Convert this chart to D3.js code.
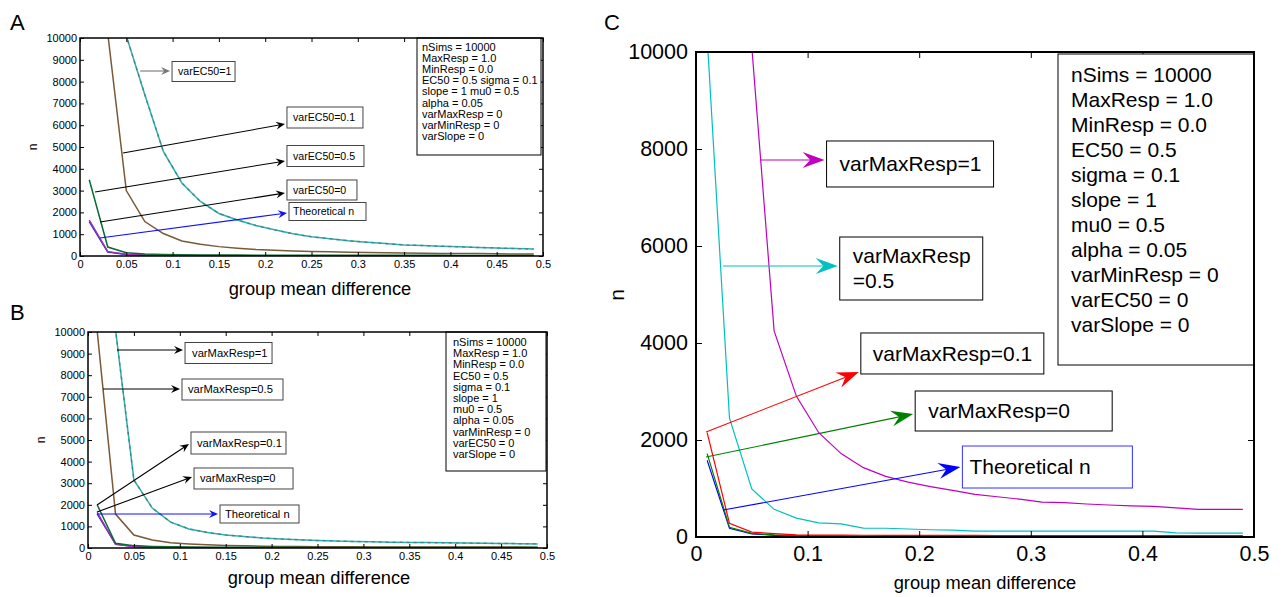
<!DOCTYPE html>
<html>
<head>
<meta charset="utf-8">
<title>Sample size vs group mean difference</title>
<script src="https://cdnjs.cloudflare.com/ajax/libs/d3/7.8.5/d3.min.js"></script>
<style>
  body { margin: 0; background: #fff; }
  text { font-family: "Liberation Sans", Arial, Helvetica, sans-serif; }
</style>
</head>
<body>
<script>
    // group mean difference (x) for every series
    var diffs = [0.01, 0.03, 0.05, 0.07, 0.09, 0.11, 0.13, 0.15, 0.17, 0.19, 0.21, 0.23, 0.25,
                 0.27, 0.29, 0.31, 0.33, 0.35, 0.37, 0.39, 0.41, 0.43, 0.45, 0.47, 0.49];

    var theoreticalN = [1580, 180, 65, 35, 22, 16, 12, 10, 8, 7, 6, 5, 5, 4, 4, 4, 3, 3, 3, 3, 3, 2, 2, 2, 2];

    // panel A: varEC50
    var aVarEC50_1   = [40000, 20000, 10100, 7400, 4800, 3350, 2500, 1950, 1650, 1400, 1200, 1020, 880,
                        790, 700, 630, 570, 510, 480, 450, 420, 390, 370, 340, 320];
    var aVarEC50_01  = [90000, 10200, 3000, 1580, 1030, 690, 540, 430, 360, 300, 260, 230, 210,
                        190, 175, 160, 150, 140, 130, 120, 115, 110, 100, 95, 90];
    var aVarEC50_05  = [3500, 410, 150, 90, 65, 55, 50, 45, 42, 40, 38, 36, 35, 34, 33, 32, 31, 30, 30, 29, 28, 28, 27, 27, 26];
    var aVarEC50_0   = [1650, 200, 80, 45, 30, 25, 20, 18, 16, 15, 14, 13, 12, 12, 11, 11, 10, 10, 10, 10, 9, 9, 9, 9, 9];

    // panel B: varMaxResp
    var bVarMax_1    = [40000, 10100, 3150, 1850, 1200, 880, 720, 600, 530, 460, 420, 380, 350,
                        320, 300, 285, 270, 260, 250, 240, 230, 220, 210, 200, 190];
    var bVarMax_05   = [10050, 1570, 600, 370, 240, 190, 150, 120, 100, 85, 75, 68, 62, 58, 55, 52, 50, 48, 46, 45, 44, 43, 42, 41, 40];
    var bVarMax_01   = [2000, 220, 110, 75, 55, 45, 40, 36, 33, 31, 30, 29, 28, 27, 26, 26, 25, 25, 24, 24, 24, 23, 23, 23, 23];
    var bVarMax_0    = [1650, 170, 70, 40, 28, 22, 18, 16, 14, 13, 12, 11, 11, 10, 10, 10, 9, 9, 9, 9, 9, 8, 8, 8, 8];

    // panel C: varMaxResp, enlarged
    var cVarMax_1    = [60000, 25000, 10100, 4250, 2900, 2150, 1720, 1430, 1250, 1130, 1040, 960, 880,
                        830, 780, 720, 710, 680, 660, 640, 630, 600, 570, 570, 570];
    var cVarMax_05   = [10300, 2450, 990, 570, 390, 290, 270, 185, 180, 165, 150, 140, 120,
                        120, 120, 120, 120, 120, 120, 120, 120, 85, 80, 80, 80];
    var cVarMax_01   = [2150, 280, 100, 70, 45, 40, 38, 36, 35, 34, 33, 32, 32, 31, 31, 30, 30, 30, 30, 30, 30, 30, 30, 30, 30];
    var cVarMax_0    = [1720, 200, 75, 42, 30, 25, 22, 20, 19, 18, 17, 16, 16, 15, 15, 15, 14, 14, 14, 14, 14, 14, 14, 14, 14];

    var xTicksAB = [0, 0.05, 0.1, 0.15, 0.2, 0.25, 0.3, 0.35, 0.4, 0.45, 0.5];
    var yTicksAB = [0, 1000, 2000, 3000, 4000, 5000, 6000, 7000, 8000, 9000, 10000];
    var xTicksC = [0, 0.1, 0.2, 0.3, 0.4, 0.5];
    var yTicksC = [0, 2000, 4000, 6000, 8000, 10000];

    var paramsA = ["nSims = 10000", "MaxResp = 1.0", "MinResp = 0.0", "EC50 = 0.5 sigma = 0.1",
                   "slope = 1 mu0 = 0.5", "alpha = 0.05", "varMaxResp = 0", "varMinResp = 0", "varSlope = 0"];
    var paramsBC = ["nSims = 10000", "MaxResp = 1.0", "MinResp = 0.0", "EC50 = 0.5", "sigma = 0.1",
                    "slope = 1", "mu0 = 0.5", "alpha = 0.05", "varMinResp = 0", "varEC50 = 0", "varSlope = 0"];

    var svg = d3.select("body").append("svg")
        .attr("width", 1288)
        .attr("height", 597);
    var defs = svg.append("defs");

    var tealAB = "#22b4b4", brownAB = "#7a5838", greenAB = "#0b6b35", magAB = "#a030b0", blueAB = "#2222e6";

    var panels = [
        {
            id: "A", left: 80, right: 543, top: 38, bottom: 256,
            xTicks: xTicksAB, yTicks: yTicksAB, fs: 11, tick: 4, pad: 4, lw: 1.5, frameW: 1.5,
            letter: [10, 30], nLabel: [37, 147, 12], title: [320, 295, 18.3],
            series: [
                { values: aVarEC50_1, color: tealAB, overlay: "#5d6b6b" },
                { values: aVarEC50_01, color: brownAB },
                { values: theoreticalN, color: blueAB },
                { values: aVarEC50_0, color: magAB },
                { values: aVarEC50_05, color: greenAB }
            ],
            notes: [
                { lines: ["varEC50=1"], color: "#777", box: "#444", tx: 0.065, ty: 8486, bx: 0.0994, by: 8463, hy: 8486, w: 63, h: 20, tp: 6 },
                { lines: ["varEC50=0.1"], color: "#000", box: "#444", tx: 0.0464, ty: 4725, bx: 0.2235, by: 6353, hy: 6055, w: 76, h: 21, tp: 6 },
                { lines: ["varEC50=0.5"], color: "#000", box: "#444", tx: 0.0162, ty: 2936, bx: 0.2235, by: 4587, hy: 4358, w: 77, h: 21, tp: 6 },
                { lines: ["varEC50=0"], color: "#000", box: "#444", tx: 0.0216, ty: 1560, bx: 0.2235, by: 3028, hy: 2890, w: 70, h: 20, tp: 6 },
                { lines: ["Theoretical n"], color: "#1010ff", box: "#444", tx: 0.0216, ty: 826, bx: 0.2257, by: 2041, hy: 1972, w: 77, h: 18, tp: 4 }
            ],
            arrow: [9, 4], noteFs: 10.6, lineGap: 0,
            params: { lines: paramsA, x0: 417, y0: 38, x1: 541, y1: 155, fs: 11, gap: 11.1, base: 51, tx: 422 }
        },
        {
            id: "B", left: 88, right: 547, top: 332, bottom: 548,
            xTicks: xTicksAB, yTicks: yTicksAB, fs: 11, tick: 4, pad: 4, lw: 1.5, frameW: 1.5,
            letter: [10, 320], nLabel: [45, 440, 12], title: [319, 584, 18.3],
            series: [
                { values: bVarMax_1, color: tealAB, overlay: "#5d6b6b" },
                { values: bVarMax_05, color: brownAB },
                { values: theoreticalN, color: blueAB },
                { values: bVarMax_0, color: magAB },
                { values: bVarMax_01, color: greenAB }
            ],
            notes: [
                { lines: ["varMaxResp=1"], color: "#000", box: "#444", tx: 0.0316, ty: 9167, bx: 0.1057, by: 9028, hy: 9167, w: 87, h: 21, tp: 7 },
                { lines: ["varMaxResp=0.5"], color: "#000", box: "#444", tx: 0.0163, ty: 7361, bx: 0.1024, by: 7338, hy: 7361, w: 101, h: 21, tp: 6 },
                { lines: ["varMaxResp=0.1"], color: "#000", box: "#444", tx: 0.0098, ty: 1991, bx: 0.1122, by: 4861, hy: 4815, w: 95, h: 22, tp: 6 },
                { lines: ["varMaxResp=0"], color: "#000", box: "#444", tx: 0.0098, ty: 1667, bx: 0.1155, by: 3218, hy: 3287, w: 99, h: 21, tp: 6 },
                { lines: ["Theoretical n"], color: "#1010ff", box: "#444", tx: 0.0098, ty: 1574, bx: 0.1438, by: 1574, hy: 1574, w: 79, h: 18, tp: 5 }
            ],
            arrow: [9, 4], noteFs: 11.2, lineGap: 0,
            params: { lines: paramsBC, x0: 446, y0: 332, x1: 546, y1: 471, fs: 11, gap: 11.2, base: 346, tx: 453 }
        },
        {
            id: "C", left: 696, right: 1254, top: 52, bottom: 537,
            xTicks: xTicksC, yTicks: yTicksC, fs: 21.5, tick: 6, pad: 9, lw: 1.2, frameW: 2,
            letter: [604, 30], nLabel: [624, 295, 21], title: [985, 589, 18.3],
            series: [
                { values: cVarMax_1, color: "#c000c0" },
                { values: cVarMax_05, color: "#00c0c0" },
                { values: theoreticalN, color: "#0000ff" },
                { values: cVarMax_0, color: "#008000" },
                { values: cVarMax_01, color: "#ff0000" }
            ],
            notes: [
                { lines: ["varMaxResp=1"], color: "#c000c0", box: "#000", tx: 0.0577, ty: 7773, bx: 0.117, by: 7691, hy: 7773, w: 167, h: 46, tp: 13 },
                { lines: ["varMaxResp", "=0.5"], color: "#00c0c0", box: "#000", tx: 0.0243, ty: 5588, bx: 0.1288, by: 5536, hy: 5588, w: 143, h: 63, tp: 13 },
                { lines: ["varMaxResp=0.1"], color: "#ff0000", box: "#000", tx: 0.009, ty: 2165, bx: 0.1477, by: 3784, hy: 3402, w: 183, h: 41, tp: 12 },
                { lines: ["varMaxResp=0"], color: "#008000", box: "#000", tx: 0.009, ty: 1649, bx: 0.1964, by: 2598, hy: 2536, w: 197, h: 40, tp: 13 },
                { lines: ["Theoretical n"], color: "#0000ff", box: "#3333ff", tx: 0.0243, ty: 557, bx: 0.2387, by: 1443, hy: 1443, w: 170, h: 42, tp: 7 }
            ],
            arrow: [22, 8], noteFs: 21, lineGap: 25,
            params: { lines: paramsBC, x0: 1058, y0: 54, x1: 1254, y1: 365, fs: 21, gap: 25, base: 82, tx: 1071 }
        }
    ];

    function arrow(g, x1, y1, x2, y2, len, half, color) {
        var a = Math.atan2(y2 - y1, x2 - x1), c = Math.cos(a), s = Math.sin(a);
        var bx = x2 - len * c, by = y2 - len * s;
        var nx = x2 - len * 0.65 * c, ny = y2 - len * 0.65 * s;
        g.append("line").attr("x1", x1).attr("y1", y1).attr("x2", nx).attr("y2", ny)
            .attr("stroke", color).attr("stroke-width", 1.1);
        g.append("path")
            .attr("d", "M" + x2 + "," + y2 +
                " L" + (bx - half * s) + "," + (by + half * c) +
                " L" + nx + "," + ny +
                " L" + (bx + half * s) + "," + (by - half * c) + " Z")
            .attr("fill", color);
    }

    function drawPanel(p) {
        var x = d3.scaleLinear().domain([0, 0.5]).range([p.left, p.right]);
        var y = d3.scaleLinear().domain([0, 10000]).range([p.bottom, p.top]);
        var g = svg.append("g");

        defs.append("clipPath").attr("id", "clip-" + p.id).append("rect")
            .attr("x", p.left).attr("y", p.top)
            .attr("width", p.right - p.left).attr("height", p.bottom - p.top);

        var line = d3.line()
            .x(function(d, i) { return x(diffs[i]); })
            .y(function(d) { return y(d); });

        var plot = g.append("g").attr("clip-path", "url(#clip-" + p.id + ")");
        p.series.forEach(function(s) {
            plot.append("path").attr("d", line(s.values))
                .attr("fill", "none").attr("stroke", s.color).attr("stroke-width", p.lw);
            if (s.overlay) {
                plot.append("path").attr("d", line(s.values))
                    .attr("fill", "none").attr("stroke", s.overlay).attr("stroke-width", p.lw)
                    .attr("stroke-dasharray", "3,4").attr("opacity", 0.7);
            }
        });

        // axes, ticks pointing inward on all four sides
        var fmtX = d3.format("~g"), fmtY = d3.format("d");
        function clean(sel) {
            sel.select(".domain").remove();
            sel.attr("font-family", null).attr("font-size", p.fs);
            sel.selectAll("text").attr("fill", "#000");
            sel.selectAll("line").attr("stroke", "#000");
        }
        g.append("g").attr("transform", "translate(0," + p.bottom + ")")
            .call(d3.axisBottom(x).tickValues(p.xTicks).tickFormat(fmtX)
                .tickSizeInner(-p.tick).tickSizeOuter(0).tickPadding(p.pad)).call(clean);
        g.append("g").attr("transform", "translate(0," + p.top + ")")
            .call(d3.axisTop(x).tickValues(p.xTicks).tickFormat("")
                .tickSizeInner(-p.tick).tickSizeOuter(0)).call(clean);
        g.append("g").attr("transform", "translate(" + p.left + ",0)")
            .call(d3.axisLeft(y).tickValues(p.yTicks).tickFormat(fmtY)
                .tickSizeInner(-p.tick).tickSizeOuter(0).tickPadding(p.pad - 1)).call(clean);
        g.append("g").attr("transform", "translate(" + p.right + ",0)")
            .call(d3.axisRight(y).tickValues(p.yTicks).tickFormat("")
                .tickSizeInner(-p.tick).tickSizeOuter(0)).call(clean);

        // parameter box
        var pb = p.params;
        g.append("rect").attr("x", pb.x0).attr("y", pb.y0)
            .attr("width", pb.x1 - pb.x0).attr("height", pb.y1 - pb.y0)
            .attr("fill", "#fff").attr("stroke", "#000").attr("stroke-width", 1);
        pb.lines.forEach(function(t, i) {
            g.append("text").attr("x", pb.tx).attr("y", pb.base + i * pb.gap)
                .attr("font-size", pb.fs).text(t);
        });

        g.append("rect").attr("x", p.left).attr("y", p.top)
            .attr("width", p.right - p.left).attr("height", p.bottom - p.top)
            .attr("fill", "none").attr("stroke", "#000").attr("stroke-width", p.frameW);

        // annotation arrows and boxes
        p.notes.forEach(function(n) {
            var bx = x(n.bx), by = y(n.by);
            arrow(g, x(n.tx), y(n.ty), bx - 2, y(n.hy), p.arrow[0], p.arrow[1], n.color);
            g.append("rect").attr("x", bx).attr("y", by - n.h / 2)
                .attr("width", n.w).attr("height", n.h)
                .attr("fill", "#fff").attr("stroke", n.box).attr("stroke-width", 1);
            var off = (n.lines.length - 1) * p.lineGap / 2;
            n.lines.forEach(function(t, i) {
                g.append("text").attr("x", bx + n.tp).attr("y", by - off + i * p.lineGap)
                    .attr("dy", "0.35em").attr("font-size", p.noteFs).text(t);
            });
        });

        // labels
        svg.append("text").attr("x", p.letter[0]).attr("y", p.letter[1])
            .attr("font-size", 22).text(p.id);
        svg.append("text").attr("transform", "translate(" + p.nLabel[0] + "," + p.nLabel[1] + ") rotate(-90)")
            .attr("text-anchor", "middle").attr("font-size", p.nLabel[2]).text("n");
        svg.append("text").attr("x", p.title[0]).attr("y", p.title[1])
            .attr("text-anchor", "middle").attr("font-size", p.title[2]).text("group mean difference");
    }

    panels.forEach(drawPanel);
</script>
</body>
</html>
